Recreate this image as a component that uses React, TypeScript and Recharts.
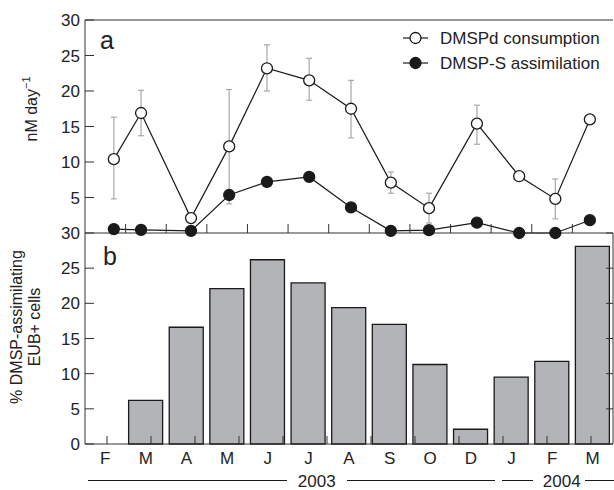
import React from "react";
import {
  LineChart,
  Line,
  ErrorBar,
  BarChart,
  Bar,
  XAxis,
  YAxis,
  ReferenceLine,
  Legend,
} from "recharts";

// sampling months, Feb 2003 - Mar 2004
const months = ["F", "M", "A", "M", "J", "J", "A", "S", "O", "D", "J", "F", "M"];
// sampling date on the month axis (0 = Feb 2003)
const sampleTime = [0.21, 0.88, 2.11, 3.05, 3.98, 5.02, 6.05, 7.03, 7.97, 9.15, 10.19, 11.08, 11.93];

// panel a (nM day-1)
const consumption = [10.4, 16.9, 2.1, 12.2, 23.2, 21.5, 17.5, 7.1, 3.5, 15.4, 8.0, 4.8, 16.0];
const consumptionErrLow = [5.6, 3.2, 0, 8.1, 3.2, 2.8, 4.1, 1.5, 2.1, 2.9, 0, 2.8, 0];
const consumptionErrHigh = [5.9, 3.2, 0, 8.0, 3.3, 3.1, 4.0, 1.5, 2.1, 2.6, 0, 2.8, 0];
const assimilation = [0.55, 0.45, 0.3, 5.35, 7.2, 7.9, 3.6, 0.3, 0.4, 1.45, 0, 0, 1.8];

// panel b (% DMSP-assimilating EUB+ cells)
const eubPercent = [null, 6.2, 16.6, 22.1, 26.2, 22.9, 19.4, 17.0, 11.3, 2.1, 9.5, 11.75, 28.1];

const ticksA = [5, 10, 15, 20, 25, 30];
const ticksB = [0, 5, 10, 15, 20, 25, 30];
const monthEdges = [0.5, 1.5, 2.5, 3.5, 4.5, 5.5, 6.5, 7.5, 8.5, 9.5, 10.5, 11.5];

const FONT = "'Liberation Sans', Arial, Helvetica, sans-serif";
const INK = "#1a1a1a";
const AXIS = "#333";

const lineData = sampleTime.map((t, i) => ({
  t,
  consumption: consumption[i],
  err: [consumptionErrLow[i], consumptionErrHigh[i]],
  assimilation: assimilation[i],
}));

const barData = months.map((m, i) => ({ month: m, pct: eubPercent[i] }));

const legendOrder = ["consumption", "assimilation"];

// tick marks only, no labels
const noLabel = () => <g />;

const renderLegend = (props: any) => {
  const payload = props.payload || [];
  const items = legendOrder
    .map((k) => payload.find((p: any) => p.dataKey === k))
    .filter(Boolean);
  return (
    <svg width={216} height={52} style={{ display: "block" }}>
      {items.map((item: any, i: number) => {
        const cy = 12 + i * 25;
        const open = item.dataKey === "consumption";
        return (
          <g key={item.dataKey}>
            <line x1={5} x2={30} y1={cy} y2={cy} stroke={INK} strokeWidth={1.2} />
            <circle
              cx={17.5}
              cy={cy}
              r={5.5}
              fill={open ? "#fff" : INK}
              stroke={INK}
              strokeWidth={1.3}
            />
            <text x={42} y={cy + 6} fontSize={17} fontFamily={FONT} fill="#222">
              {item.value}
            </text>
          </g>
        );
      })}
    </svg>
  );
};

const labelA = () => (
  <text
    transform="translate(37, 109) rotate(-90)"
    textAnchor="middle"
    fontSize={16}
    fontFamily={FONT}
    fill="#222"
  >
    nM day
    <tspan dy={-7} fontSize={11}>
      −1
    </tspan>
  </text>
);

const labelB = () => (
  <g fontSize={16} fontFamily={FONT} fill="#222" textAnchor="middle">
    <text transform="translate(22, 112) rotate(-90)">% DMSP-assimilating</text>
    <text transform="translate(40, 112) rotate(-90)">EUB+ cells</text>
  </g>
);

const App = () => {
  return (
    <div
      style={{
        position: "absolute",
        left: 0,
        top: 0,
        width: 614,
        height: 490,
        overflow: "hidden",
        background: "#fff",
        fontFamily: FONT,
      }}
    >
      {/* panel b */}
      <div style={{ position: "absolute", left: 0, top: 215 }}>
        <BarChart
          width={614}
          height={275}
          data={barData}
          margin={{ top: 18, right: 1, bottom: 0, left: 0 }}
        >
          <XAxis
            dataKey="month"
            height={46}
            stroke={AXIS}
            tickLine={false}
            tick={{ fill: "#222", fontSize: 17, fontFamily: FONT }}
            interval={0}
          />
          <XAxis
            xAxisId="edges"
            type="number"
            domain={[-0.5, 12.5]}
            allowDataOverflow
            ticks={monthEdges}
            interval={0}
            mirror
            height={1}
            axisLine={false}
            tick={noLabel}
            tickSize={8}
            stroke={AXIS}
          />
          <YAxis
            domain={[0, 30]}
            ticks={ticksB}
            interval={0}
            width={85}
            stroke={AXIS}
            tickSize={-9}
            tickMargin={14}
            tick={{ fill: "#222", fontSize: 17, fontFamily: FONT }}
            label={labelB}
          />
          <YAxis
            yAxisId="right"
            orientation="right"
            domain={[0, 30]}
            allowDataOverflow
            ticks={ticksB}
            interval={0}
            mirror
            width={1}
            tick={noLabel}
            tickSize={7}
            stroke={AXIS}
          />
          <Bar
            dataKey="pct"
            fill="#b3b4b7"
            stroke={INK}
            strokeWidth={1.3}
            barSize={34}
            isAnimationActive={false}
          />
        </BarChart>
      </div>

      {/* panel a */}
      <div style={{ position: "absolute", left: 0, top: 0 }}>
        <LineChart
          width={614}
          height={245}
          data={lineData}
          margin={{ top: 20, right: 1, bottom: 12, left: 0 }}
        >
          <XAxis
            dataKey="t"
            type="number"
            domain={[-0.5, 12.5]}
            ticks={monthEdges}
            interval={0}
            mirror
            height={1}
            tick={noLabel}
            tickSize={9}
            stroke={AXIS}
          />
          <YAxis
            domain={[0, 30]}
            ticks={ticksA}
            interval={0}
            width={85}
            stroke={AXIS}
            tickSize={-9}
            tickMargin={14}
            tick={{ fill: "#222", fontSize: 17, fontFamily: FONT }}
            label={labelA}
          />
          <ReferenceLine y={30} stroke={AXIS} strokeWidth={1} />
          <Legend
            layout="vertical"
            align="center"
            verticalAlign="middle"
            wrapperStyle={{ top: 26, left: 398, width: 216 }}
            content={renderLegend}
          />
          <Line
            dataKey="assimilation"
            name="DMSP-S assimilation"
            stroke={INK}
            strokeWidth={1.2}
            dot={{ r: 5.5, fill: INK, stroke: INK, strokeWidth: 1.3 }}
            activeDot={false}
            isAnimationActive={false}
          />
          <Line
            dataKey="consumption"
            name="DMSPd consumption"
            stroke={INK}
            strokeWidth={1.2}
            dot={{ r: 5.5, fill: "#fff", stroke: INK, strokeWidth: 1.3 }}
            activeDot={false}
            isAnimationActive={false}
          >
            <ErrorBar
              dataKey="err"
              direction="y"
              width={3}
              stroke="#a8a8a8"
              strokeWidth={1.2}
            />
          </Line>
        </LineChart>
      </div>

      {/* panel letters and year brackets */}
      <svg
        width={614}
        height={490}
        style={{ position: "absolute", left: 0, top: 0, pointerEvents: "none" }}
        fontFamily={FONT}
        fill="#222"
      >
        <text x={100} y={49} fontSize={25}>a</text>
        <text x={103} y={265} fontSize={25}>b</text>
        <g stroke={INK} strokeWidth={1}>
          <line x1={88} x2={287} y1={480.5} y2={480.5} />
          <line x1={347} x2={495} y1={480.5} y2={480.5} />
          <line x1={502} x2={533} y1={480.5} y2={480.5} />
          <line x1={585} x2={614} y1={480.5} y2={480.5} />
        </g>
        <text x={316.7} y={486.5} fontSize={17} textAnchor="middle">2003</text>
        <text x={561.7} y={486.5} fontSize={17} textAnchor="middle">2004</text>
      </svg>
    </div>
  );
};

export default App;
